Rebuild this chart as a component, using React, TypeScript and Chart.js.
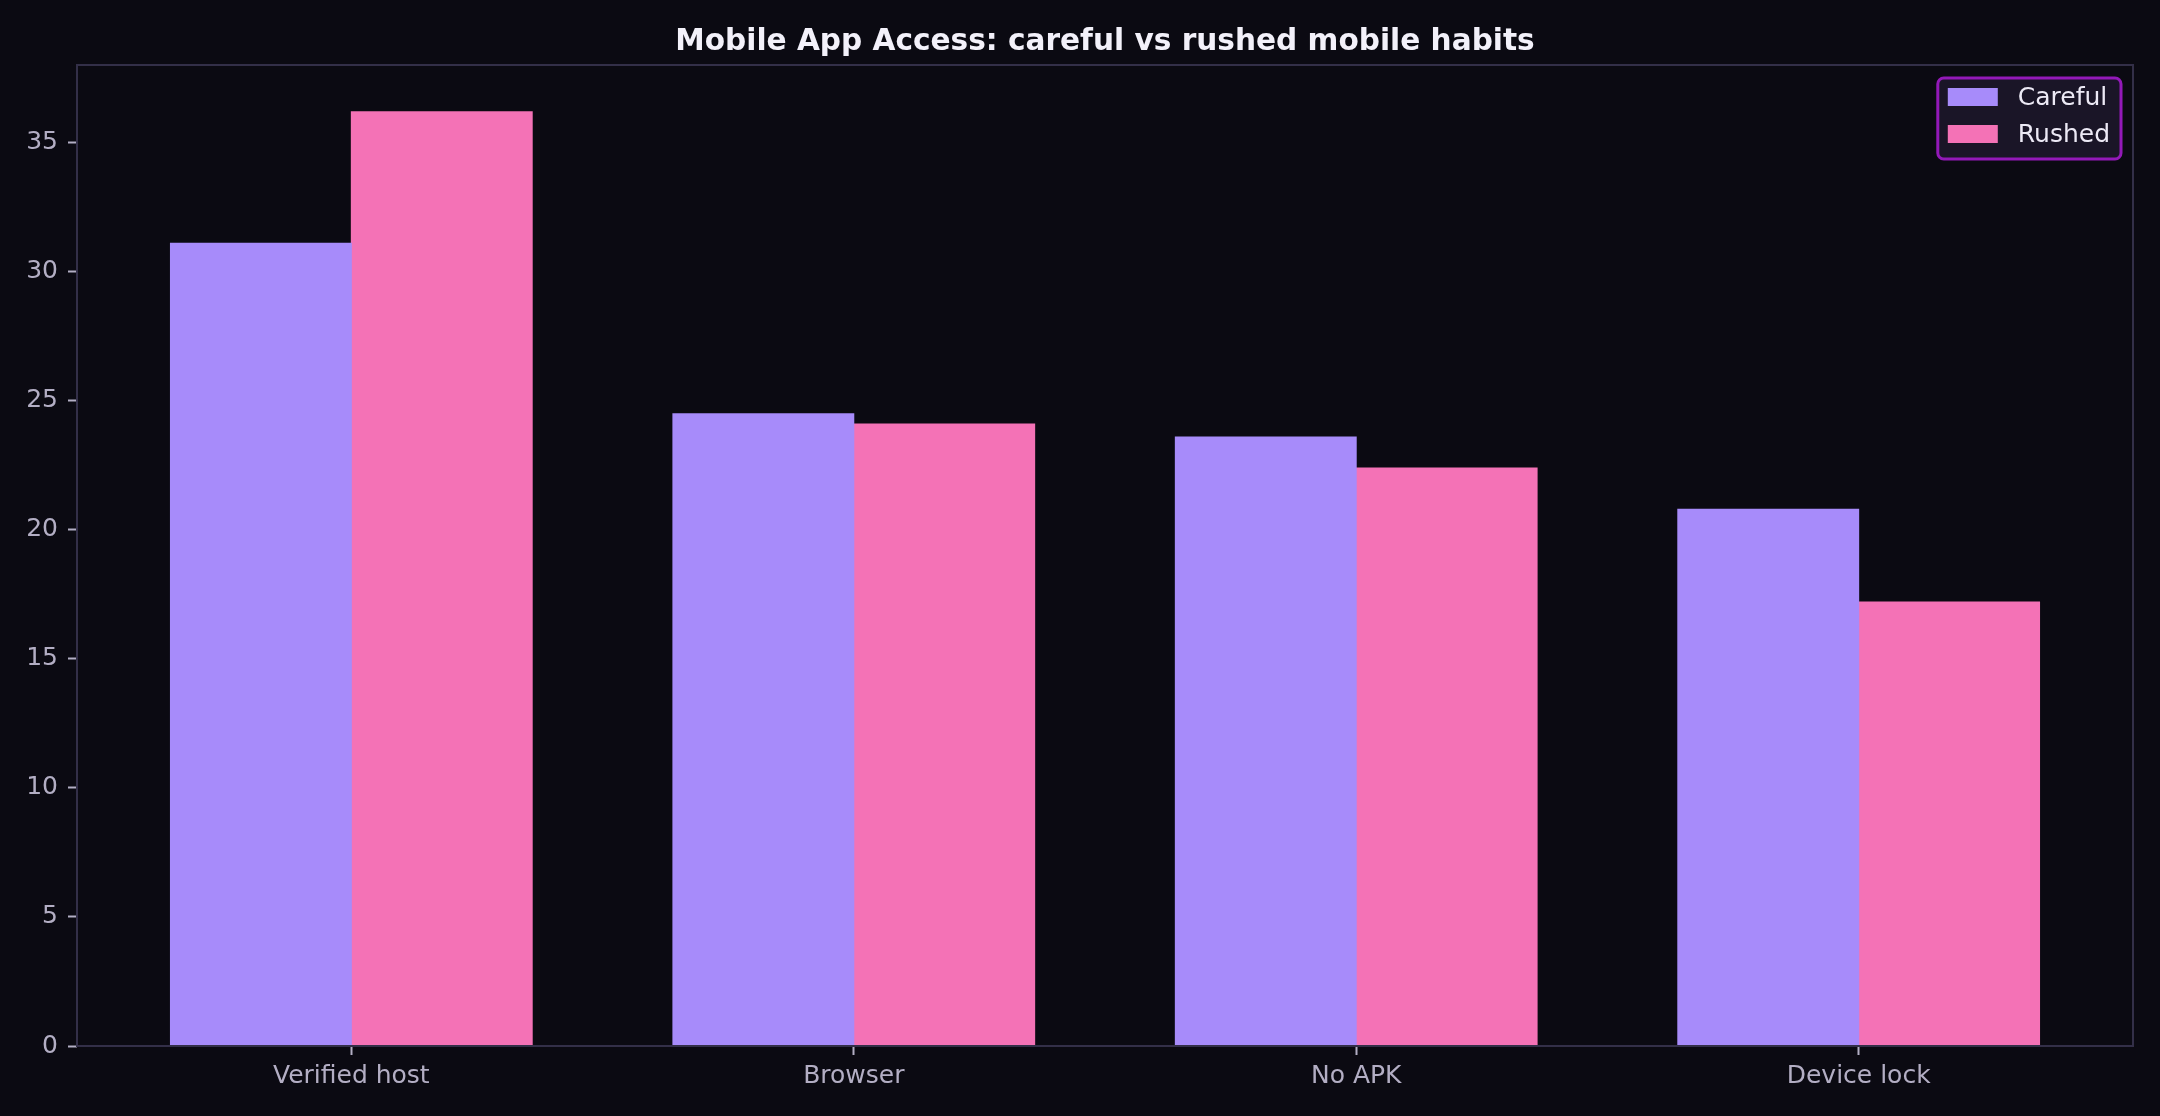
import { Chart, registerables } from 'chart.js'
import { useEffect, useRef } from 'react'

Chart.register(...registerables)

const categories = ['Verified host', 'Browser', 'No APK', 'Device lock']
const careful = [31.1, 24.5, 23.6, 20.8]
const rushed = [36.2, 24.1, 22.4, 17.2]
const yTicks = [0, 5, 10, 15, 20, 25, 30, 35]
const seriesNames = ['Careful', 'Rushed']
const title = 'Mobile App Access: careful vs rushed mobile habits'

const BG = '#0b0a12'
const FRAME = '#332f48'
const TICK = '#b3aec4'
const COLORS = ['#a78bfa', '#f472b6']
const FONT = "'DejaVu Sans', sans-serif"

// frame, title and matplotlib-style legend drawn straight on the canvas
const decorations = {
  id: 'decorations',
  beforeDraw(chart: Chart) {
    const { ctx, width, height } = chart
    ctx.save()
    ctx.fillStyle = BG
    ctx.fillRect(0, 0, width, height)
    ctx.restore()
  },
  afterDatasetsDraw(chart: Chart) {
    const { ctx, chartArea: a } = chart
    ctx.save()
    ctx.strokeStyle = FRAME
    ctx.lineWidth = 2
    ctx.strokeRect(a.left, a.top, a.right - a.left, a.bottom - a.top)

    ctx.fillStyle = '#f3f1fa'
    ctx.font = `bold 29.6px ${FONT}`
    ctx.textAlign = 'center'
    ctx.textBaseline = 'alphabetic'
    ctx.fillText(title, (a.left + a.right) / 2, a.top - 15)

    ctx.font = `25px ${FONT}`
    const textW = Math.max(...seriesNames.map(n => ctx.measureText(n).width))
    const boxW = 10 + 50 + 20 + textW + 11
    const boxH = 81
    const right = a.right - 12
    const top = a.top + 13
    const left = right - boxW
    ctx.beginPath()
    ctx.roundRect(left, top, boxW, boxH, 6)
    ctx.fillStyle = 'rgba(28, 22, 42, 0.9)'
    ctx.fill()
    ctx.lineWidth = 3
    ctx.strokeStyle = '#9319b8'
    ctx.stroke()

    ctx.textAlign = 'left'
    ctx.textBaseline = 'middle'
    seriesNames.forEach((name, i) => {
      const cy = top + 19 + i * 37
      ctx.fillStyle = COLORS[i]
      ctx.fillRect(left + 10, cy - 9, 50, 18)
      ctx.fillStyle = '#ece9f5'
      ctx.fillText(name, left + 80, cy + 1)
    })
    ctx.restore()
  },
}

export default function App() {
  const canvasRef = useRef<HTMLCanvasElement>(null)
  const chartRef = useRef<Chart | null>(null)

  useEffect(() => {
    document.body.style.margin = '0'
    document.body.style.background = BG
    if (!canvasRef.current) return
    if (chartRef.current) chartRef.current.destroy()

    chartRef.current = new Chart(canvasRef.current, {
      type: 'bar',
      data: {
        datasets: [careful, rushed].map((vals, s) => ({
          label: seriesNames[s],
          data: vals.map((v, i) => ({ x: i, y: v })),
          backgroundColor: COLORS[s],
          borderWidth: 0,
          inflateAmount: 0.5,
          categoryPercentage: 0.72,
          barPercentage: 1,
        })),
      },
      options: {
        animation: false,
        responsive: false,
        devicePixelRatio: 1,
        layout: { padding: { top: 65, right: 27, left: 0, bottom: 0 } },
        plugins: {
          legend: { display: false },
          title: { display: false },
          tooltip: { enabled: false },
        },
        scales: {
          x: {
            type: 'linear',
            offset: false,
            min: -0.546,
            max: 3.546,
            afterBuildTicks: (scale: any) => {
              scale.ticks = categories.map((_, i) => ({ value: i }))
            },
            afterFit: (scale: any) => {
              scale.height = 70
            },
            ticks: {
              color: TICK,
              font: { family: FONT, size: 25 },
              padding: 6,
              maxRotation: 0,
              autoSkip: false,
              callback: (v: any) => categories[Math.round(Number(v))] ?? '',
            },
            grid: {
              offset: false,
              drawOnChartArea: false,
              drawTicks: true,
              tickLength: 9,
              tickWidth: 2,
              tickColor: TICK,
            },
            border: { display: false },
          },
          y: {
            type: 'linear',
            min: 0,
            max: 38.01,
            afterBuildTicks: (scale: any) => {
              scale.ticks = yTicks.map(v => ({ value: v }))
            },
            afterFit: (scale: any) => {
              scale.width = 77
            },
            ticks: {
              color: TICK,
              font: { family: FONT, size: 25 },
              padding: 10,
            },
            grid: {
              drawOnChartArea: false,
              drawTicks: true,
              tickLength: 9,
              tickWidth: 2,
              tickColor: TICK,
            },
            border: { display: false },
          },
        },
      },
      plugins: [decorations],
    })

    return () => {
      if (chartRef.current) {
        chartRef.current.destroy()
        chartRef.current = null
      }
    }
  }, [])

  return (
    <div style={{ width: 2160, height: 1116, background: BG }}>
      <canvas ref={canvasRef} width={2160} height={1116} style={{ width: 2160, height: 1116, display: 'block' }} />
    </div>
  )
}
